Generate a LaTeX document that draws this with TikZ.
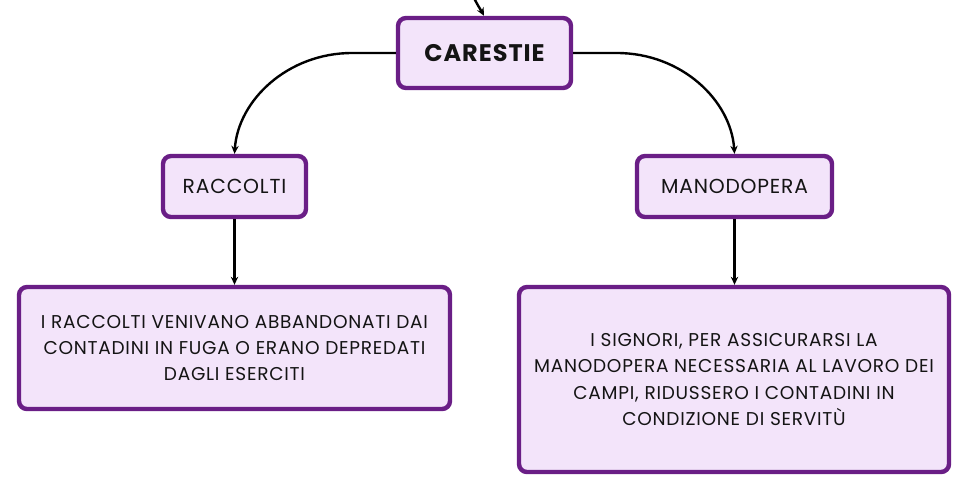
\documentclass[tikz,border=0pt]{standalone}
\usepackage{fontspec}
\setmainfont{Poppins}[LetterSpace=4]
\usetikzlibrary{arrows.meta}
\definecolor{bordc}{HTML}{6A1E86}
\definecolor{fillc}{HTML}{F3E4FA}
\definecolor{txtc}{HTML}{141414}
\tikzset{
  box/.style={draw=bordc, fill=fillc, line width=3.3pt, rounded corners=6pt, inner sep=0pt, text=txtc},
  conn/.style={black, line width=1.8pt, -{Stealth[length=6pt,width=5.5pt]}},
}
\begin{document}
\begin{tikzpicture}[x=0.75pt,y=-0.75pt]
\useasboundingbox (0,0) rectangle (970,494);
% boxes
\node[box, minimum width=173*0.75pt, minimum height=70*0.75pt, font=\fontsize{18}{22}\selectfont\bfseries] (car) at (484.5,53) {CARESTIE};
\node[box, minimum width=143*0.75pt, minimum height=61*0.75pt, font=\fontsize{15.2}{18}\selectfont] (rac) at (234.5,186.5) {RACCOLTI};
\node[box, minimum width=195*0.75pt, minimum height=61*0.75pt, font=\fontsize{15.2}{18}\selectfont] (man) at (734.5,186.5) {MANODOPERA};
\node[box, minimum width=431*0.75pt, minimum height=122*0.75pt, align=center, font=\fontsize{13.9}{19.5}\selectfont] (left) at (234.5,348) {I RACCOLTI VENIVANO ABBANDONATI DAI\\CONTADINI IN FUGA O ERANO DEPREDATI\\DAGLI ESERCITI};
\node[box, minimum width=430*0.75pt, minimum height=185*0.75pt, align=center, font=\fontsize{13.9}{19.8}\selectfont] (right) at (734,379.5) {I SIGNORI, PER ASSICURARSI LA\\MANODOPERA NECESSARIA AL LAVORO DEI\\CAMPI, RIDUSSERO I CONTADINI IN\\CONDIZIONE DI SERVITÙ};
% connectors
\coordinate (topin) at (474,-2);
\draw[conn] (topin) .. controls (478,6) and (482,12) .. ([xshift=-0.5*0.75pt]car.north);
\draw[conn] (car.west) -- (352,53) .. controls (288,53) and (238,100) .. (rac.north);
\draw[conn] (car.east) -- (617,53) .. controls (681,53) and (731,100) .. (man.north);
\draw[conn] (rac.south) -- (left.north);
\draw[conn] (man.south) -- (man.south |- right.north);
\end{tikzpicture}
\end{document}
